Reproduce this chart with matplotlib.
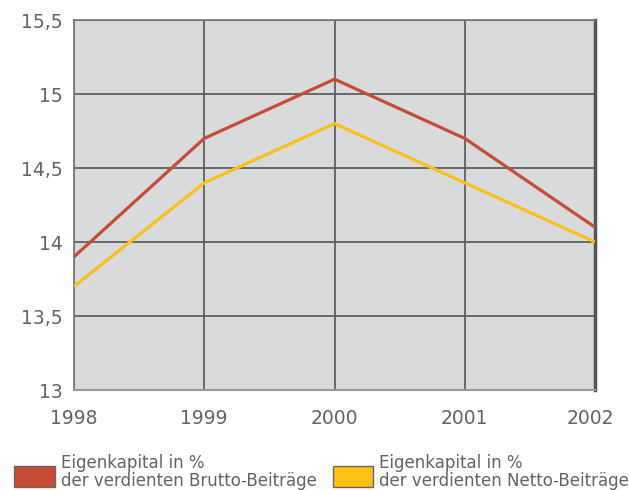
import matplotlib.pyplot as plt
import matplotlib.transforms as mtransforms
from matplotlib.patches import Rectangle

years = [1998, 1999, 2000, 2001, 2002]
brutto = [13.9, 14.7, 15.1, 14.7, 14.1]
netto = [13.7, 14.4, 14.8, 14.4, 14.0]
yticks = [13, 13.5, 14, 14.5, 15, 15.5]
ytick_labels = ["13", "13,5", "14", "14,5", "15", "15,5"]
legend_line1 = ["Eigenkapital in %", "Eigenkapital in %"]
legend_line2 = ["der verdienten Brutto-Beiträge", "der verdienten Netto-Beiträge"]

red = "#c94b34"
yellow = "#fdc112"
txt = "#636363"
grid = "#555555"

plt.rcParams['font.family'] = ['DejaVu Sans']

fig = plt.figure(figsize=(6.29, 4.9), dpi=100)
ax = fig.add_axes([74 / 629, 1 - 390 / 490, (595 - 74) / 629, (390 - 20) / 490])
ax.set_facecolor("#d9dadc")

ax.plot(years, brutto, color=red, lw=2.3, zorder=3, solid_capstyle='butt')
ax.plot(years, netto, color=yellow, lw=2.3, zorder=3, solid_capstyle='butt')

ax.set_xlim(years[0], years[-1])
ax.set_ylim(13, 15.5)
ax.set_xticks(years)
ax.set_xticklabels([str(y) for y in years])
ax.set_yticks(yticks)
ax.set_yticklabels(ytick_labels)
ax.tick_params(length=0, labelsize=13.5, colors=txt, pad=8)
ax.tick_params(axis='x', pad=14)
ax.grid(True, color=grid, lw=1.2, zorder=1)
ax.set_axisbelow(True)
for s in ["left", "top"]:
    ax.spines[s].set_color("#777777")
    ax.spines[s].set_linewidth(1.2)
ax.spines["bottom"].set_color("#999999")
ax.spines["bottom"].set_linewidth(1.5)
ax.spines["right"].set_color("#555555")
ax.spines["right"].set_linewidth(2.5)

# 2002 label sits a little left in the original
last = ax.get_xticklabels()[-1]
last.set_transform(last.get_transform() + mtransforms.ScaledTranslation(-5 / 100, 0, fig.dpi_scale_trans))

# legend
for i, col in enumerate([red, yellow]):
    x0, x1 = [(14, 55), (333, 373)][i]
    fig.patches.append(Rectangle((x0 / 629, 1 - 487 / 490), (x1 - x0) / 629, 21 / 490,
                                 transform=fig.transFigure, facecolor=col,
                                 edgecolor="#666666", lw=1))
    fig.text((x1 + 6) / 629, 1 - 468 / 490, legend_line1[i], fontsize=12, color=txt,
             va='baseline', ha='left')
    fig.text((x1 + 6) / 629, 1 - 486 / 490, legend_line2[i], fontsize=12, color=txt,
             va='baseline', ha='left')

fig.savefig("out.png", dpi=100)
